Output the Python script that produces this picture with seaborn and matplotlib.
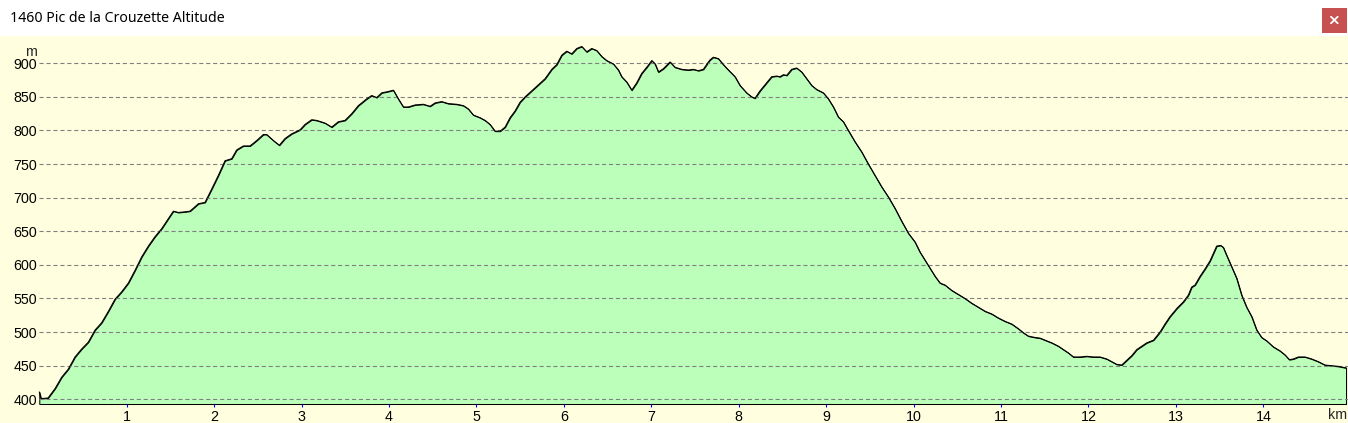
import matplotlib
matplotlib.use("Agg")
import matplotlib.pyplot as plt
from matplotlib.patches import Rectangle
from matplotlib.lines import Line2D
import numpy as np
import pandas as pd
import seaborn as sns

# ---------------- data ----------------
distance_km = [
    0.000, 0.020, 0.100, 0.180, 0.256, 0.332, 0.408, 0.485, 0.560, 0.637,
    0.713, 0.790, 0.866, 0.942, 1.018, 1.095, 1.171, 1.247, 1.323, 1.400,
    1.476, 1.533, 1.590, 1.667, 1.724, 1.819, 1.895, 1.972, 2.047, 2.124,
    2.200, 2.257, 2.333, 2.410, 2.486,
    2.562, 2.600, 2.677, 2.745, 2.810, 2.886, 2.982, 3.039, 3.115, 3.172,
    3.268, 3.344, 3.420, 3.496, 3.573, 3.649, 3.744, 3.801, 3.859, 3.916,
    3.992, 4.049, 4.106, 4.164, 4.221, 4.297, 4.392, 4.469, 4.526, 4.602,
    4.678, 4.774, 4.850, 4.907, 4.964, 5.041,
    5.098, 5.155, 5.212, 5.270, 5.327, 5.384, 5.441, 5.498, 5.556, 5.632,
    5.708, 5.784, 5.861, 5.918, 5.975, 6.032, 6.089, 6.147, 6.204, 6.261,
    6.318, 6.375, 6.433, 6.490, 6.566, 6.623, 6.661, 6.719, 6.776, 6.833,
    6.890, 6.947, 7.005, 7.043, 7.081, 7.138, 7.214, 7.271, 7.348, 7.424,
    7.481, 7.538, 7.595, 7.653,
    7.671, 7.709, 7.766, 7.824, 7.881, 7.957, 8.014, 8.090, 8.148, 8.186,
    8.243, 8.319, 8.376, 8.434, 8.472, 8.510, 8.548, 8.605, 8.662, 8.720,
    8.777, 8.834, 8.891, 8.967, 9.025, 9.082, 9.139, 9.196, 9.253, 9.330,
    9.406, 9.482, 9.558, 9.635, 9.711, 9.787, 9.863, 9.940, 10.016, 10.073,
    10.149, 10.226,
    10.245, 10.302, 10.359, 10.436, 10.512, 10.588, 10.664, 10.741, 10.817, 10.893,
    10.969, 11.046, 11.122, 11.198, 11.255, 11.313, 11.389, 11.446, 11.503, 11.580,
    11.656, 11.713, 11.770, 11.827, 11.904, 11.980, 12.056, 12.132, 12.209, 12.266,
    12.323, 12.380, 12.437, 12.495, 12.552, 12.609, 12.666, 12.743,
    12.818, 12.875, 12.932, 13.009, 13.085, 13.142, 13.180, 13.218, 13.276, 13.333,
    13.390, 13.428, 13.466, 13.512, 13.542, 13.581, 13.638, 13.695, 13.752, 13.809,
    13.867, 13.924, 13.981, 14.038, 14.114, 14.191, 14.248, 14.297, 14.343, 14.400,
    14.477, 14.553, 14.629, 14.705, 14.782, 14.858, 14.934, 14.946,
]
altitude_m = [
    411, 401, 402, 416, 433, 445, 463, 475, 485, 503,
    514, 531, 549, 560, 573, 592, 612, 628, 642, 654,
    669, 680, 678, 679, 680, 691, 693, 713, 733, 755,
    758, 771, 777, 777, 785,
    794, 794, 785, 778, 788, 795, 801, 809, 816, 815,
    811, 805, 813, 815, 825, 837, 847, 852, 849, 856,
    858, 860, 847, 835, 835, 838, 839, 836, 841, 843,
    840, 839, 837, 832, 823, 819,
    815, 809, 799, 799, 805, 819, 829, 842, 850, 859,
    868, 877, 891, 898, 912, 918, 914, 922, 925, 917,
    922, 919, 910, 904, 899, 890, 880, 872, 860, 871,
    885, 894, 904, 899, 887, 892, 902, 894, 891, 890,
    891, 889, 891, 902,
    905, 909, 907, 898, 890, 880, 867, 856, 850, 848,
    859, 871, 880, 881, 880, 883, 882, 891, 893, 887,
    877, 867, 861, 856, 847, 835, 820, 813, 800, 783,
    768, 750, 733, 716, 701, 684, 665, 647, 634, 619,
    603, 587,
    583, 573, 570, 562, 556, 550, 543, 537, 531, 527,
    521, 516, 512, 505, 499, 494, 492, 491, 488, 484,
    479, 474, 469, 463, 463, 464, 463, 463, 460, 456,
    452, 451, 458, 465, 474, 479, 484, 488,
    500, 512, 523, 535, 545, 555, 567, 570, 583, 594,
    606, 617, 628, 629, 626, 614, 597, 580, 555, 537,
    523, 503, 492, 487, 478, 472, 466, 459, 460, 463,
    463, 460, 456, 451, 450, 449, 447, 447,
]
y_ticks = [400, 450, 500, 550, 600, 650, 700, 750, 800, 850, 900]
x_ticks = list(range(1, 15))
title_text = "1460 Pic de la Crouzette Altitude"
y_unit = "m"
x_unit = "km"

# ---------------- style ----------------
W, H = 1348, 423
BG = "#FFFFDF"
FILL = "#BBFFBB"
sns.set_theme(style="white")
plt.rcParams["font.family"] = ["Liberation Sans", "DejaVu Sans"]
plt.rcParams["lines.scale_dashes"] = False

fig = plt.figure(figsize=(W / 100, H / 100), dpi=100)
fig.patch.set_facecolor("white")
fig.add_artist(Rectangle((0, 0), 1, (H - 36) / H, transform=fig.transFigure,
                         facecolor=BG, edgecolor="none", zorder=0))

# axes: left at x=39.3px, bottom at y=404px, top at y=37px
ax_left, ax_bottom_px, ax_top_px = 39.3, 404, 37
ax = fig.add_axes([ax_left / W, (H - ax_bottom_px) / H,
                   (W - ax_left) / W, (ax_bottom_px - ax_top_px) / H])
ax.set_facecolor(BG)

df = pd.DataFrame({"km": distance_km, "alt": altitude_m})
base = 393.0
ax.fill_between(df["km"], df["alt"], base, facecolor=FILL, edgecolor="black",
                linewidth=0.75, zorder=1, clip_on=False)
sns.lineplot(data=df, x="km", y="alt", ax=ax, color="black", linewidth=0.75,
             zorder=2, clip_on=False)

ax.set_xlim(0, (W - ax_left) / 87.43)
ax.set_ylim(base, 939.1)
ax.set_axisbelow("line")
ax.yaxis.grid(True, color="#808080", linestyle=(0, (3, 2)), linewidth=0.8)
ax.xaxis.grid(False)
for s in ax.spines.values():
    s.set_visible(False)

ax.set_yticks(y_ticks)
ax.set_yticklabels([str(v) for v in y_ticks], fontsize=10.3, color="black")
ax.tick_params(axis="y", length=0, pad=1.8)
ax.set_xticks(x_ticks)
ax.set_xticklabels([str(v) for v in x_ticks], fontsize=10.3, color="black")
ax.tick_params(axis="x", direction="out", length=2.5, width=0.8, color="#0000FF",
               pad=2.0, bottom=True)
ax.set_xlabel("")
ax.set_ylabel("")

fig.text(30.5 / W, 1 - 52.5 / H, y_unit, ha="center", va="center", fontsize=10.3)
fig.text(1347 / W, 1 - 414.7 / H, x_unit, ha="right", va="center", fontsize=10.3)

# title bar
fig.text(10 / W, 1 - 18.5 / H, title_text, ha="left", va="center", fontsize=10.2,
         family=["Noto Sans", "DejaVu Sans"], color="black")
fig.add_artist(Rectangle((1322.3 / W, 1 - 32.7 / H), 24.4 / W, 24.4 / H,
                         transform=fig.transFigure, facecolor="#C75050",
                         edgecolor="none", zorder=3))
for (x0, y0, x1, y1) in [(1331, 16.7, 1337.7, 23.3), (1331, 23.3, 1337.7, 16.7)]:
    fig.add_artist(Line2D([x0 / W, x1 / W], [1 - y0 / H, 1 - y1 / H],
                          transform=fig.transFigure, color="white",
                          linewidth=1.3, zorder=4))

fig.savefig("out.png", dpi=100)
